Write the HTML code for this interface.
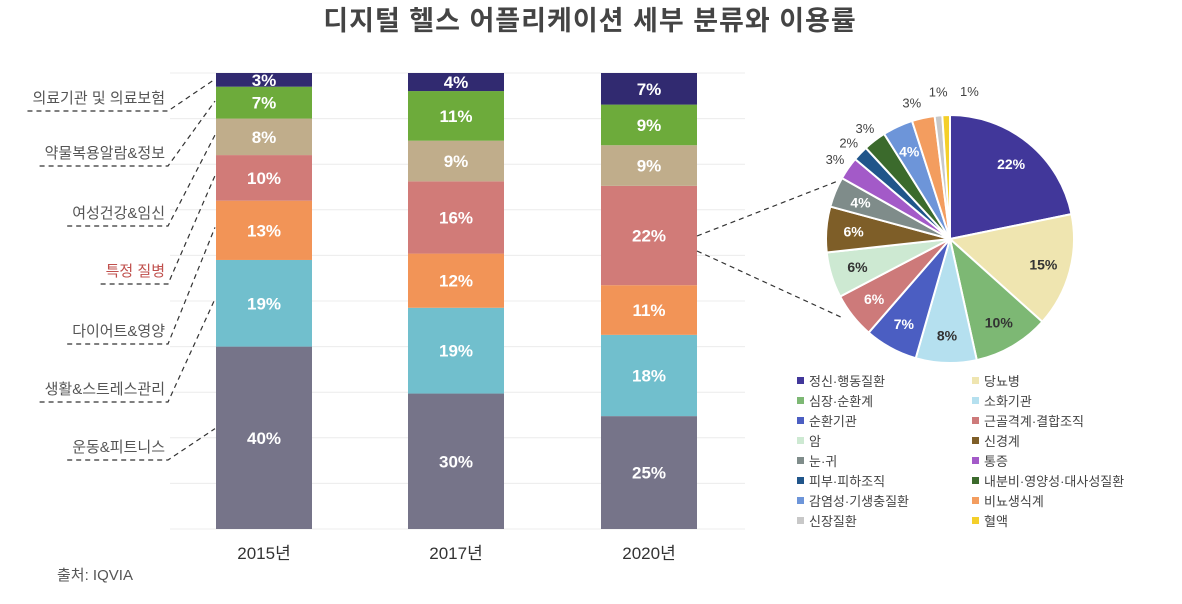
<!DOCTYPE html>
<html><head><meta charset="utf-8"><style>
body{margin:0;background:#fff;width:1182px;height:599px;overflow:hidden;font-family:"Liberation Sans","Noto Sans CJK KR",sans-serif;}
svg text{font-family:"Liberation Sans","Noto Sans CJK KR",sans-serif;}
</style></head><body>
<svg id="c" width="1182" height="599">
<text x="590" y="30" text-anchor="middle" font-size="27" font-weight="bold" fill="#444" letter-spacing="1">디지털 헬스 어플리케이션 세부 분류와 이용률</text>
<text x="57" y="580" font-size="15" fill="#555">출처: IQVIA</text>
<g id="grid"></g><g id="bars"></g><g id="labels"></g><g id="pie"></g><g id="legend"></g>
</svg>
<script>
const years=['2015년','2017년','2020년'];
const categories=['운동&피트니스','생활&스트레스관리','다이어트&영양','특정 질병','여성건강&임신','약물복용알람&정보','의료기관 및 의료보험'];
const v2015=[40,19,13,10,8,7,3];
const v2017=[30,19,12,16,9,11,4];
const v2020=[25,18,11,22,9,9,7];
const pieLabels=['정신·행동질환','당뇨병','심장·순환계','소화기관','순환기관','근골격계·결합조직','암','신경계','눈·귀','통증','피부·피하조직','내분비·영양성·대사성질환','감염성·기생충질환','비뇨생식계','신장질환','혈액'];
const pieValues=[22,15,10,8,7,6,6,6,4,3,2,3,4,3,1,1];
const barColors=['#767489','#71bfcd','#f29457','#d17b78','#c0ad8b','#6dab3b','#312a70'];
const pieColors=['#41379a','#efe5b0','#7db874','#b5e0ef','#4b5ec2','#cd7a7a','#cde9d2','#7e5e28','#7f8c8a','#a35ac8','#20558a','#3b6a2c','#6d95d9','#f39d5f','#c8c8c8','#f4cf2a'];
const NS='http://www.w3.org/2000/svg';
function mk(p,t,a){const e=document.createElementNS(NS,t);for(const k in a)e.setAttribute(k,a[k]);p.appendChild(e);return e;}
const top0=73,bot=529,H=bot-top0;
const yOf=f=>bot-f*H;
const grid=document.getElementById('grid');
for(let i=0;i<=10;i++){const l=mk(grid,'line',{x1:170,x2:745,y1:yOf(i/10),y2:yOf(i/10),stroke:'#ececec','stroke-width':1});

}
const barsG=document.getElementById('bars');
const series=[v2015,v2017,v2020];const bx=[216,408,601],bw=96;
const segMid=[];
series.forEach((vals,bi)=>{const sum=vals.reduce((a,b)=>a+b,0);let acc=0;segMid[bi]=[];
vals.forEach((v,i)=>{const y1=yOf(acc/sum),y2=yOf((acc+v)/sum);acc+=v;
const r=mk(barsG,'rect',{x:bx[bi],y:y2,width:bw,height:y1-y2,fill:barColors[i]});


segMid[bi].push(y2+(y1-y2)*0.45);
const t=mk(barsG,'text',{x:bx[bi]+bw/2,y:Math.max((y1+y2)/2+6,top0+13),'text-anchor':'middle','font-size':17,fill:'#fff','font-weight':'bold'});t.textContent=v+'%';

});
const yt=mk(barsG,'text',{x:bx[bi]+bw/2,y:559,'text-anchor':'middle','font-size':17,fill:'#333'});yt.textContent=years[bi];

});
const lg=document.getElementById('labels');
const ly=[446,388,330,270,212,152,97];
categories.forEach((c,i)=>{const t=mk(lg,'text',{x:165,y:ly[i]+6,'text-anchor':'end','font-size':15,fill:i==3?'#c0504d':'#555'});t.textContent=c;


const uy=ly[i]+14;const w=t.getComputedTextLength?t.getComputedTextLength():100;
const p=mk(lg,'polyline',{points:(165-w-5)+','+uy+' 168,'+uy+' 215,'+segMid[0][i],fill:'none',stroke:'#333','stroke-dasharray':'5,4','stroke-width':1.2});

});
const pg=document.getElementById('pie');
const cx=950,cy=239,R=124;
[[697,236,838,181],[697,251,843,318]].forEach(s=>{const l=mk(pg,'line',{x1:s[0],y1:s[1],x2:s[2],y2:s[3],stroke:'#333','stroke-dasharray':'5,4','stroke-width':1.2});

});
const ptot=pieValues.reduce((a,b)=>a+b,0);let ang=0;
pieValues.forEach((v,i)=>{const a0=ang,a1=ang+v/ptot*2*Math.PI;ang=a1;
const P=a=>[cx+R*Math.sin(a),cy-R*Math.cos(a)];const p0=P(a0),p1=P(a1);
const path=mk(pg,'path',{d:`M${cx},${cy}L${p0[0]},${p0[1]}A${R},${R} 0 ${a1-a0>Math.PI?1:0} 1 ${p1[0]},${p1[1]}Z`,fill:pieColors[i],stroke:'#fff','stroke-width':2});


const m=(a0+a1)/2;let rr=v>=4?R*0.78:R+16;
if(i>=14)rr=R+24;
const tx=cx+rr*Math.sin(m)+(i==15?24:0)+(i==14?2:0)+(i==13?-8:0),ty=cy-rr*Math.cos(m)+5;
const dark=[0,4,5,7,8,12].includes(i);
const t=mk(pg,'text',{x:tx,y:ty,'text-anchor':'middle','font-size':v>=4?14:13,fill:v>=4?(dark?'#fff':'#333'):'#444','font-weight':v>=4?'bold':'normal'});t.textContent=v+'%';

});
const lgd=document.getElementById('legend');
pieLabels.forEach((l,i)=>{const col=i%2,row=Math.floor(i/2);const x=col?972:797,y=381+row*20;
const r=mk(lgd,'rect',{x:x,y:y-4,width:7,height:7,fill:pieColors[i]});


const t=mk(lgd,'text',{x:x+12,y:y+5,'font-size':13,fill:'#444'});t.textContent=l;

});
</script>
</body></html>
